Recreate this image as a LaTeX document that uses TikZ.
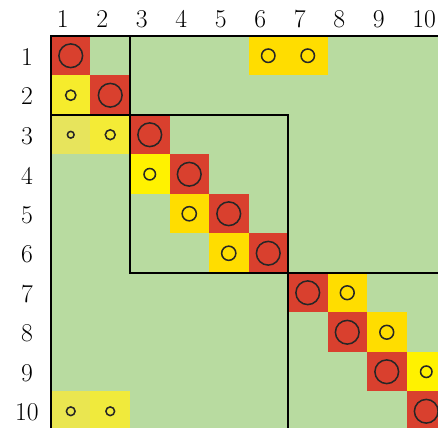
\documentclass[tikz,border=0pt]{standalone}
\definecolor{bggreen}{RGB}{184,219,160}
\definecolor{diagred}{RGB}{217,64,46}
\definecolor{gold}{RGB}{255,221,0}
\definecolor{ylwbright}{RGB}{255,242,0}
\definecolor{ylwa}{RGB}{246,236,44}
\definecolor{ylwb}{RGB}{231,228,92}
\definecolor{ylwc}{RGB}{244,235,54}
\definecolor{ylwd}{RGB}{234,230,80}
\definecolor{ylwe}{RGB}{240,234,60}
\begin{document}
\begin{tikzpicture}[x=1cm,y=1cm,
  every node/.style={font=\fontsize{18.5}{22}\selectfont},
  ring/.style={draw=black!85,line width=1.1pt},
  block/.style={draw=black,line width=1.3pt}]
  \useasboundingbox (-1.291,0.911) rectangle (9.797,-9.924);

  % Background of the matrix
  \fill[bggreen] (0,0) rectangle (10,-10);

  % Coloured entries: row/column/colour/ring radius
  \foreach \r/\c/\col/\rad in {1/1/diagred/0.30,2/2/diagred/0.30,
      3/3/diagred/0.30,4/4/diagred/0.30,5/5/diagred/0.30,6/6/diagred/0.30,
      7/7/diagred/0.30,8/8/diagred/0.30,9/9/diagred/0.30,10/10/diagred/0.30,
      2/1/ylwa/0.13,3/1/ylwb/0.085,3/2/ylwc/0.125,4/3/ylwbright/0.145,
      5/4/gold/0.18,6/5/gold/0.18,7/8/gold/0.175,8/9/gold/0.175,
      9/10/ylwbright/0.145,1/6/gold/0.17,1/7/gold/0.17,
      10/1/ylwd/0.11,10/2/ylwe/0.11}{
    \fill[\col] (\c-1,-\r+1) rectangle (\c,-\r);
    \draw[ring] (\c-0.5,-\r+0.5) circle (\rad);
  }

  % Block frames
  \draw[block] (0,0) rectangle (10,-10);
  \draw[block] (0,0) rectangle (2,-2);
  \draw[block] (2,-2) rectangle (6,-6);
  \draw[block] (6,-6) rectangle (10,-10);

  % Row and column indices
  \foreach \k in {1,...,10}{
    \node[anchor=west,inner sep=0pt] (col\k) at (\k-0.86,0.42) {\k};
    \node (row\k) at (-0.61,-\k+0.47) {\k};
  }
\end{tikzpicture}
\end{document}
